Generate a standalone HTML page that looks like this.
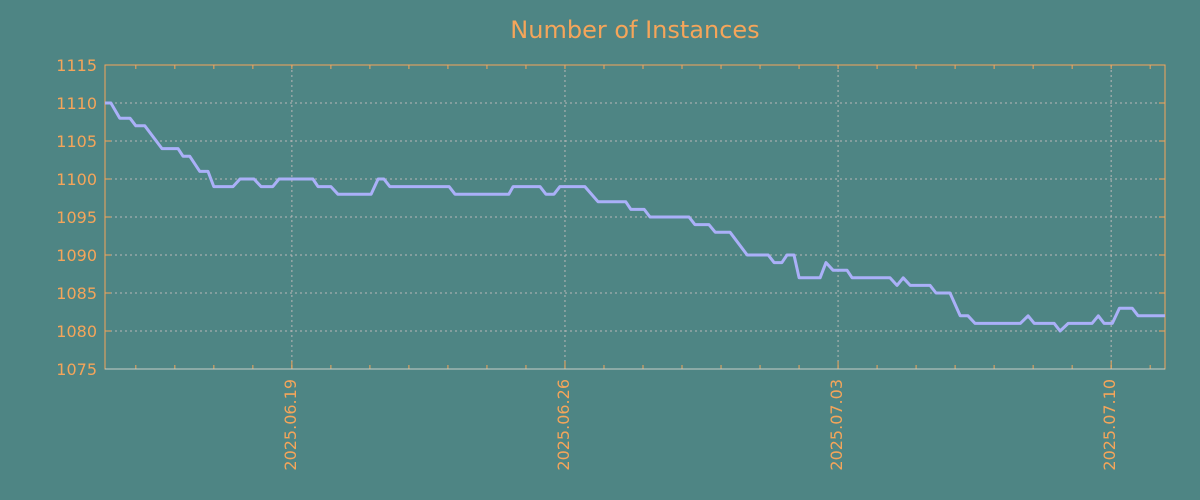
<!DOCTYPE html>
<html><head><meta charset="utf-8">
<style>
html,body{margin:0;padding:0;background:#4e8584;}
svg{display:block;font-family:"DejaVu Sans","Liberation Sans",sans-serif;}
</style></head>
<body>
<svg id="chart" width="1200" height="500">
<rect width="1200" height="500" fill="#4e8584"/>
<text x="635" y="38" text-anchor="middle" font-size="24" fill="#f5a55a">Number of Instances</text>
<g id="grid"></g>
<g id="axes"></g>
<g id="series"></g>
</svg>
<script>
// days relative to 2025-06-19 00:00
const days = [-4.79,-4.64,-4.41,-4.15,-4.0,-3.77,-3.33,-2.92,-2.79,-2.62,-2.36,-2.15,-2.0,-1.51,-1.33,-0.97,-0.79,-0.49,-0.33,0.54,0.67,1.0,1.18,2.03,2.21,2.36,2.51,4.03,4.18,5.56,5.67,6.36,6.51,6.72,6.87,7.51,7.85,8.56,8.69,9.03,9.18,10.18,10.33,10.69,10.85,11.23,11.67,12.21,12.36,12.56,12.69,12.87,13.0,13.54,13.69,13.87,14.23,14.36,15.33,15.51,15.67,15.85,16.36,16.51,16.87,17.13,17.33,17.51,18.67,18.87,19.03,19.54,19.69,19.9,20.51,20.67,20.82,21.03,21.21,21.54,21.69,22.38];
const instances = [1110,1110,1108,1108,1107,1107,1104,1104,1103,1103,1101,1101,1099,1099,1100,1100,1099,1099,1100,1100,1099,1099,1098,1098,1100,1100,1099,1099,1098,1098,1099,1099,1098,1098,1099,1099,1097,1097,1096,1096,1095,1095,1094,1094,1093,1093,1090,1090,1089,1089,1090,1090,1087,1087,1089,1088,1088,1087,1087,1086,1087,1086,1086,1085,1085,1082,1082,1081,1081,1082,1081,1081,1080,1081,1081,1082,1081,1081,1083,1083,1082,1082];
const yTicks = [1075,1080,1085,1090,1095,1100,1105,1110,1115];
const xTickDays = [0,7,14,21];
const xTickLabels = ["2025.06.19","2025.06.26","2025.07.03","2025.07.10"];

const L=105,R=1165,T=65,B=369;
const xMin=-4.79,xMax=22.38,yMin=1075,yMax=1115;
const xs=d=>L+(d-xMin)/(xMax-xMin)*(R-L);
const ys=v=>B-(v-yMin)/(yMax-yMin)*(B-T);
const NS="http://www.w3.org/2000/svg";
function mk(tag,attrs,parent){const e=document.createElementNS(NS,tag);for(const k in attrs)e.setAttribute(k,attrs[k]);parent.appendChild(e);return e;}
const grid=document.getElementById('grid'),axes=document.getElementById('axes'),series=document.getElementById('series');
const orange="#f5a55a";
yTicks.forEach(v=>{
  const y=ys(v);
  if(v>yMin&&v<yMax){const g=mk('line',{x1:L,x2:R,y1:y,y2:y,stroke:"#b8b8b8","stroke-width":1,"stroke-dasharray":"2,3"},grid);
  
  }
  const t=mk('line',{x1:L,x2:L+6,y1:y,y2:y,stroke:orange},axes);
  
  
  const t2=mk('line',{x1:R-6,x2:R,y1:y,y2:y,stroke:orange},axes);
  
  
  const lb=mk('text',{x:L-8,y:y+6,"text-anchor":"end","font-size":16,fill:orange},axes);
  lb.textContent=v;
  
  
});
for(let d=Math.ceil(xMin);d<=xMax;d++){
  const x=xs(d);
  const m=mk('line',{x1:x,x2:x,y1:B,y2:B-4,stroke:orange},axes);
  
  
  const m2=mk('line',{x1:x,x2:x,y1:T,y2:T+4,stroke:orange},axes);
  
  
}
xTickDays.forEach((d,i)=>{
  const x=xs(d);
  const g=mk('line',{x1:x,x2:x,y1:T,y2:B,stroke:"#b8b8b8","stroke-width":1,"stroke-dasharray":"2,3"},grid);
  
  
  const t=mk('line',{x1:x,x2:x,y1:B,y2:B-8,stroke:orange},axes);
  
  
  const lb=mk('text',{x:0,y:0,"text-anchor":"end","font-size":16,fill:orange,transform:`translate(${x+4},${B+10}) rotate(-90)`},axes);
  lb.textContent=xTickLabels[i];
  
  
});
const fr=mk('rect',{x:L,y:T,width:R-L,height:B-T,fill:"none",stroke:orange,"stroke-width":1},axes);


const bl=mk('line',{x1:L,x2:R,y1:B,y2:B,stroke:"#c8d0c8","stroke-width":1},axes);


const pts=days.map((d,i)=>xs(d).toFixed(1)+","+ys(instances[i]).toFixed(1)).join(" ");
const pl=mk('polyline',{points:pts,fill:"none",stroke:"#aab0f8","stroke-width":3,"stroke-linejoin":"round"},series);


</script>
</body></html>
